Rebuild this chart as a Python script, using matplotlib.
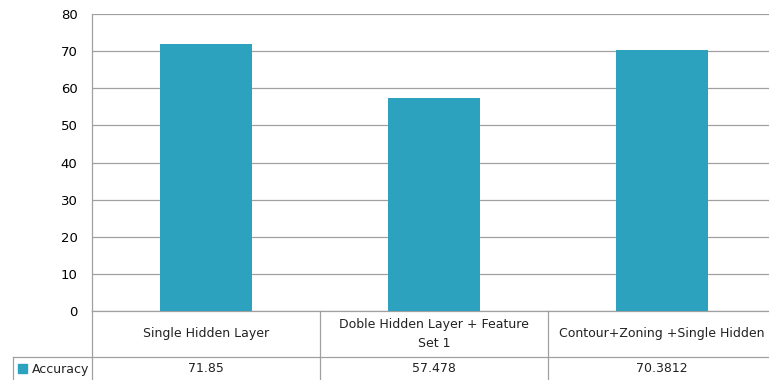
import numpy as np
import matplotlib.pyplot as plt
import matplotlib.transforms as mtransforms
from matplotlib.patches import Rectangle

categories = ["Single Hidden Layer", "Doble Hidden Layer + Feature\nSet 1", "Contour+Zoning +Single Hidden"]
accuracy = [71.85, 57.478, 70.3812]
value_labels = ["71.85", "57.478", "70.3812"]
series_name = "Accuracy"
yticks = [0, 10, 20, 30, 40, 50, 60, 70, 80]

bar_col = "#2ca2bf"
grid_col = "#a0a0a0"

W, H = 769, 380
fig = plt.figure(figsize=(W / 100, H / 100), dpi=100)
# plot area runs a bit past the right edge of the image (cut off like the original)
ax = fig.add_axes([92 / W, 1 - 311 / H, 684 / W, 297 / H])

x = np.arange(len(categories))
ax.bar(x, accuracy, width=0.4, color=bar_col, zorder=3)
ax.set_xlim(-0.5, 2.5)
ax.set_ylim(0, 80)
ax.set_yticks(yticks)
ax.yaxis.grid(True, color=grid_col, linewidth=0.9)
ax.set_axisbelow(True)
ax.tick_params(axis="y", length=0, pad=10.5, labelsize=9.5)
ax.set_xticks([])
for s in ["top", "right"]:
    ax.spines[s].set_visible(False)
for s in ["left", "bottom"]:
    ax.spines[s].set_color(grid_col)
    ax.spines[s].set_linewidth(0.9)

# data table below the plot
tr = mtransforms.blended_transform_factory(ax.transData, ax.transAxes)
row1 = -46 / 297
bottom = -70 / 297
lw = 0.9
ax.plot([-0.5, -0.5], [0, bottom], transform=tr, color=grid_col, lw=lw, clip_on=False)
for d in [0.5, 1.5]:
    ax.plot([d, d], [0, bottom], transform=tr, color=grid_col, lw=lw, clip_on=False)
left_edge = -0.5 - 79 / 228
ax.plot([left_edge, 2.5], [row1, row1], transform=tr, color=grid_col, lw=lw, clip_on=False)
ax.plot([left_edge, left_edge], [row1, bottom], transform=tr, color=grid_col, lw=lw, clip_on=False)

for i, c in enumerate(categories):
    ax.text(i, row1 / 2, c, transform=tr, ha="center", va="center", fontsize=9, linespacing=1.6,
            color="#222222")
    ax.text(i, (row1 + bottom) / 2, value_labels[i], transform=tr, ha="center", va="center",
            fontsize=9, color="#222222")

# legend key in the table's first cell
fig.patches.append(Rectangle((18 / W, 1 - 373 / H), 9 / W, 9 / H, transform=fig.transFigure,
                             color=bar_col))
ax.text(-0.5 - 60 / 228, (row1 + bottom) / 2, series_name, transform=tr, ha="left", va="center",
        fontsize=9, color="#222222")

fig.savefig("out.png", dpi=100)
